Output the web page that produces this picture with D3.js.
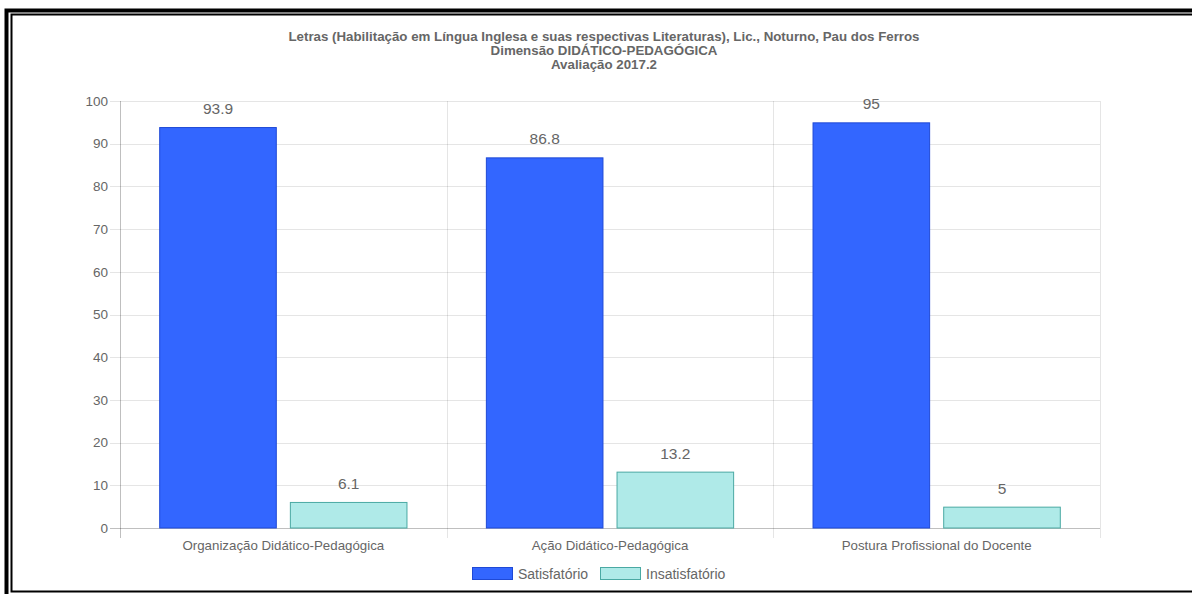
<!DOCTYPE html>
<html>
<head>
<meta charset="utf-8">
<script src="https://cdn.jsdelivr.net/npm/d3@7"></script>
<style>
  html, body { margin: 0; padding: 0; background: #fff; }
  svg { display: block; font-family: "Liberation Sans", Arial, Helvetica, sans-serif; }
</style>
</head>
<body>
<svg id="chart" width="1192" height="594"></svg>
<script>
// Chart content
const titleLines = [
  "Letras (Habilitação em Língua Inglesa e suas respectivas Literaturas), Lic., Noturno, Pau dos Ferros",
  "Dimensão DIDÁTICO-PEDAGÓGICA",
  "Avaliação 2017.2"
];
const categories = ["Organização Didático-Pedagógica", "Ação Didático-Pedagógica", "Postura Profissional do Docente"];
const seriesNames = ["Satisfatório", "Insatisfatório"];
const satisfatorio = [93.9, 86.8, 95];
const insatisfatorio = [6.1, 13.2, 5];
const yTicks = [0, 10, 20, 30, 40, 50, 60, 70, 80, 90, 100];

const fills = ["#3366ff", "#afeae8"];
const strokes = ["#1f49d6", "#4aa9a3"];

const svg = d3.select("#chart");

// Double black frame
svg.append("rect").attr("x", 6.5).attr("y", 10.5).attr("width", 1200).attr("height", 600)
  .attr("fill", "none").attr("stroke", "#000").attr("stroke-width", 4);
svg.append("rect").attr("x", 11.5).attr("y", 14.5).attr("width", 1200).attr("height", 577)
  .attr("fill", "none").attr("stroke", "#000").attr("stroke-width", 2);

const plotLeft = 120, plotRight = 1100, plotTop = 101, plotBottom = 528;

const x0 = d3.scaleBand().domain(categories).range([plotLeft, plotRight]).paddingInner(0).paddingOuter(0);
// Group layout: 80% of the category, each bar 90% of its slot
const groupW = x0.bandwidth() * 0.8;
const slotW = groupW / 2;
const barW = slotW * 0.9;
const barX = (ci, si) => x0(categories[ci]) + x0.bandwidth() * 0.1 + si * slotW + (slotW - barW) / 2;

const y = d3.scaleLinear().domain([0, 100]).range([plotBottom, plotTop]);

// Horizontal grid lines
const gridG = svg.append("g");
gridG.selectAll("line.h").data(yTicks).join("line")
  .attr("x1", plotLeft - 10).attr("x2", plotRight)
  .attr("y1", d => Math.round(y(d)) + 0.5).attr("y2", d => Math.round(y(d)) + 0.5)
  .attr("stroke", d => d === 0 ? "rgba(0,0,0,0.25)" : "rgba(0,0,0,0.1)")
  .attr("stroke-width", 1);

// Vertical grid lines at category boundaries
const vx = categories.map(c => x0(c)).concat([plotRight]);
gridG.selectAll("line.v").data(vx).join("line")
  .attr("x1", d => Math.round(d) + 0.5).attr("x2", d => Math.round(d) + 0.5)
  .attr("y1", plotTop).attr("y2", plotBottom + 10)
  .attr("stroke", (d, i) => i === 0 ? "rgba(0,0,0,0.25)" : "rgba(0,0,0,0.1)")
  .attr("stroke-width", 1);

// Y axis labels
svg.append("g").selectAll("text").data(yTicks).join("text")
  .attr("x", plotLeft - 12).attr("y", d => y(d)).attr("dy", "0.35em")
  .attr("text-anchor", "end").attr("font-size", 13.5).attr("fill", "#666")
  .text(d => d);

// X axis labels
svg.append("g").selectAll("text").data(categories).join("text")
  .attr("x", d => x0(d) + x0.bandwidth() / 2).attr("y", plotBottom + 22)
  .attr("text-anchor", "middle").attr("font-size", 13.3).attr("fill", "#666")
  .text(d => d);

// Bars
const series = [satisfatorio, insatisfatorio];
const barData = [];
series.forEach((vals, si) => vals.forEach((v, ci) => barData.push({ si, ci, v })));

svg.append("g").selectAll("rect").data(barData).join("rect")
  .attr("x", d => barX(d.ci, d.si) + 0.5)
  .attr("y", d => y(d.v) + 0.5)
  .attr("width", barW - 1)
  .attr("height", d => y(0) - y(d.v) - 0.5)
  .attr("fill", d => fills[d.si])
  .attr("stroke", d => strokes[d.si])
  .attr("stroke-width", 1);

// Value labels
svg.append("g").selectAll("text").data(barData).join("text")
  .attr("x", d => barX(d.ci, d.si) + barW / 2)
  .attr("y", d => y(d.v) - 13)
  .attr("text-anchor", "middle").attr("font-size", 15.5).attr("fill", "#666")
  .text(d => d.v);

// Title
svg.append("g").selectAll("text").data(titleLines).join("text")
  .attr("x", 604).attr("y", (d, i) => 41 + i * 14)
  .attr("text-anchor", "middle").attr("font-size", 13.3).attr("font-weight", "bold").attr("fill", "#666")
  .text(d => d);

// Legend
const legend = svg.append("g");
const legendX = [472, 600];
seriesNames.forEach((name, i) => {
  legend.append("rect").attr("x", legendX[i] + 0.5).attr("y", 567.5).attr("width", 40).attr("height", 12)
    .attr("fill", fills[i]).attr("stroke", strokes[i]).attr("stroke-width", 1);
  legend.append("text").attr("x", legendX[i] + 46).attr("y", 578.5)
    .attr("font-size", 14).attr("fill", "#666").text(name);
});
</script>
</body>
</html>
